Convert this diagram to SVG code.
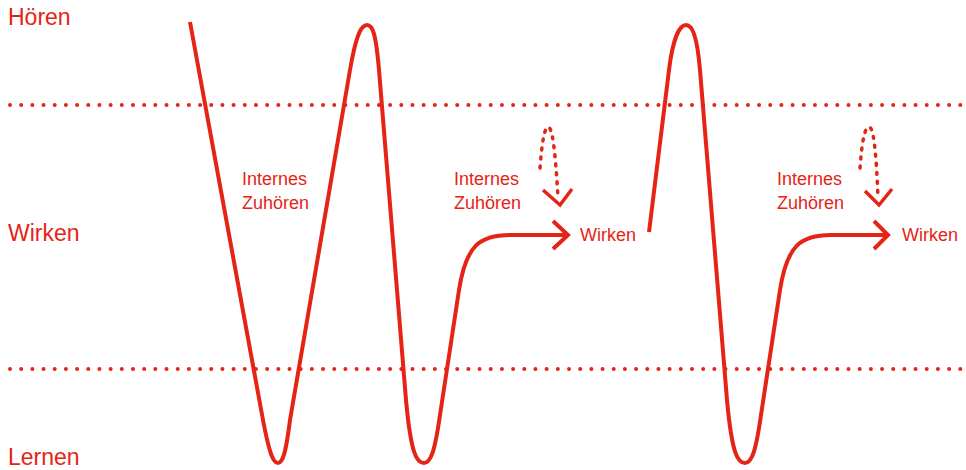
<svg xmlns="http://www.w3.org/2000/svg" width="966" height="470" viewBox="0 0 966 470">
<style>
.t{font-family:"Liberation Sans",Arial,sans-serif;fill:#e52416}
.big{font-size:23px}
.sm{font-size:18px}
.curve{fill:none;stroke:#e52416;stroke-width:4;stroke-linecap:butt;stroke-linejoin:miter}
.dots{fill:none;stroke:#e52416;stroke-width:4;stroke-linecap:round;stroke-dasharray:0 11.18}
.dash{fill:none;stroke:#e52416;stroke-width:3.5;stroke-linecap:round;stroke-dasharray:2 7}
.head{fill:none;stroke:#e52416;stroke-width:3.5;stroke-linejoin:miter}
</style>
<rect width="966" height="470" fill="#fff"/>
<g id="levels">
<line class="dots" x1="10" y1="105" x2="966" y2="105"/>
<line class="dots" x1="10" y1="369" x2="966" y2="369"/>
<text class="t big" x="8" y="25">Hören</text>
<text class="t big" x="8" y="241">Wirken</text>
<text class="t big" x="8" y="465">Lernen</text>
</g>
<g id="connectors">
<path class="curve" d="M190,22 L263,420 C269,452 273,463 278,463 C283,463 286,452 290,420 L350,70 C356,35 361,25 367,25 C373,25 376,35 379,70 L406,400 C411,455 417,463 424,463 C431,463 435,450 440,415 L459,290 C466,245 480,235 510,235 L568,235"/>
<path class="curve" d="M553,221 L568,235 L553,249"/>
<path class="curve" d="M649,232 L669,70 C673,37 680,25 686,25 C692,25 697,35 700,70 L727,400 C732,455 738,463 745,463 C752,463 756,450 761,415 L780,290 C787,245 801,235 831,235 L888,235"/>
<path class="curve" d="M874,221 L888,235 L874,249"/>
<path class="dash" d="M540,168 C542,140 545,127 548,127 C552,127 555,145 558,198"/>
<path class="head" d="M543,190 L560,205 L572,189"/>
<path class="dash" d="M860,168 C862,140 865,127 869,127 C873,127 876,145 878,198"/>
<path class="head" d="M865,191 L879,205 L892,189"/>
</g>
<g id="label1">
<text class="t sm" x="242" y="185">Internes</text>
<text class="t sm" x="242" y="209">Zuhören</text>
</g>
<g id="label2">
<text class="t sm" x="454" y="185">Internes</text>
<text class="t sm" x="454" y="209">Zuhören</text>
<text class="t sm" x="580" y="241">Wirken</text>
</g>
<g id="label3">
<text class="t sm" x="777" y="185">Internes</text>
<text class="t sm" x="777" y="209">Zuhören</text>
<text class="t sm" x="902" y="241">Wirken</text>
</g>
</svg>
